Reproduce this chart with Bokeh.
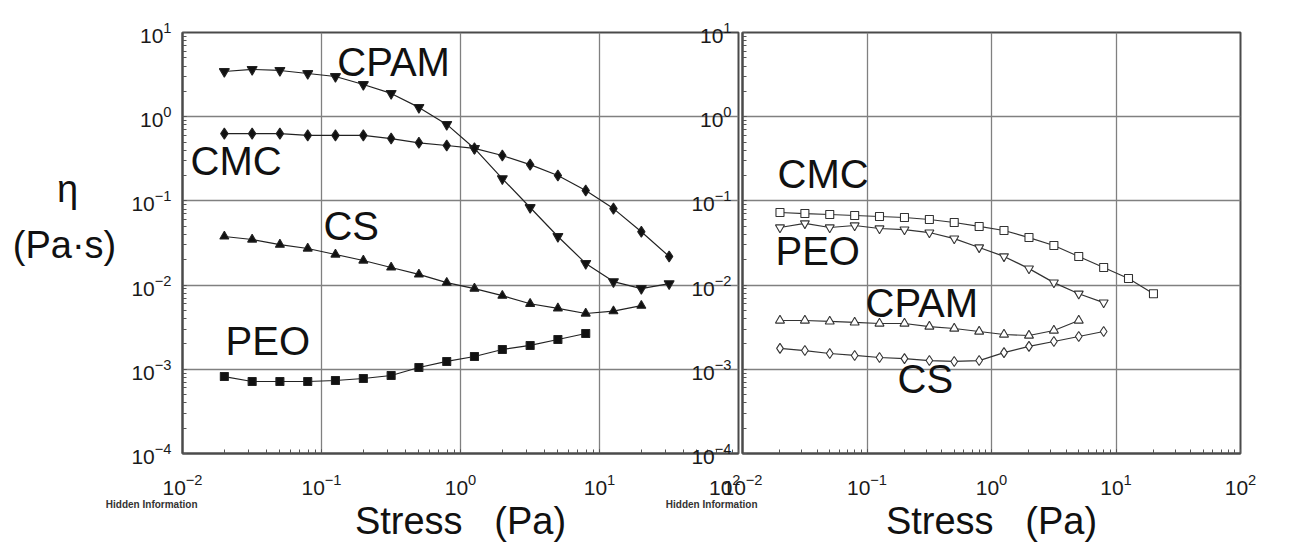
from bokeh.plotting import figure
from bokeh.models import Label
from bokeh.layouts import row
from bokeh.embed import file_html
from bokeh.resources import INLINE

FONT = "Liberation Sans"

# ---------------- data: left panel (filled symbols) ----------------
left_cpam_stress = [0.02, 0.0317, 0.0502, 0.0796, 0.126, 0.2, 0.317, 0.502, 0.796,
                    1.26, 2.0, 3.17, 5.02, 7.96, 12.6, 20.0, 31.7]
left_cpam_eta = [3.44, 3.64, 3.54, 3.26, 3.0, 2.41, 1.89, 1.29, 0.81,
                 0.42, 0.184, 0.0835, 0.0378, 0.0181, 0.0110, 0.0091, 0.0104]

left_cmc_stress = [0.02, 0.0317, 0.0502, 0.0796, 0.126, 0.2, 0.317, 0.502, 0.796,
                   1.26, 2.0, 3.17, 5.02, 7.96, 12.6, 20.0, 31.7]
left_cmc_eta = [0.63, 0.63, 0.63, 0.60, 0.60, 0.60, 0.55, 0.49, 0.455,
                0.42, 0.346, 0.27, 0.20, 0.133, 0.081, 0.043, 0.0219]

left_cs_stress = [0.02, 0.0317, 0.0502, 0.0796, 0.126, 0.2, 0.317, 0.502, 0.796,
                  1.26, 2.0, 3.17, 5.02, 7.96, 12.6, 20.0]
left_cs_eta = [0.0378, 0.0348, 0.0303, 0.0272, 0.0231, 0.0196, 0.0162, 0.0134, 0.0107,
               0.0091, 0.0075, 0.0060, 0.0053, 0.0046, 0.0049, 0.0057]

left_peo_stress = [0.02, 0.0317, 0.0502, 0.0796, 0.126, 0.2, 0.317, 0.502, 0.796,
                   1.26, 2.0, 3.17, 5.02, 7.96]
left_peo_eta = [0.00082, 0.000716, 0.000716, 0.000716, 0.000736, 0.000778, 0.000844,
                0.00105, 0.00124, 0.00142, 0.00172, 0.00192, 0.00226, 0.00266]

# ---------------- data: right panel (open symbols) ----------------
right_cmc_stress = [0.02, 0.0317, 0.0502, 0.0796, 0.126, 0.2, 0.317, 0.502, 0.796,
                    1.26, 2.0, 3.17, 5.02, 7.96, 12.6, 20.0]
right_cmc_eta = [0.0728, 0.0708, 0.0689, 0.0671, 0.0653, 0.0635, 0.0601, 0.0554, 0.0497,
                 0.0445, 0.0367, 0.0295, 0.0219, 0.0162, 0.0120, 0.0079]

right_peo_stress = [0.02, 0.0317, 0.0502, 0.0796, 0.126, 0.2, 0.317, 0.502, 0.796,
                    1.26, 2.0, 3.17, 5.02, 7.96]
right_peo_eta = [0.0483, 0.054, 0.0483, 0.051, 0.047, 0.0457, 0.0421, 0.0357, 0.0280,
                 0.0219, 0.0157, 0.0107, 0.0079, 0.0062]

right_cpam_stress = [0.02, 0.0317, 0.0502, 0.0796, 0.126, 0.2, 0.317, 0.502, 0.796,
                     1.26, 2.0, 3.17, 5.02]
right_cpam_eta = [0.0038, 0.0038, 0.0037, 0.0036, 0.0035, 0.0035, 0.00322, 0.00305,
                  0.00281, 0.00259, 0.00252, 0.00289, 0.0038]

right_cs_stress = [0.02, 0.0317, 0.0502, 0.0796, 0.126, 0.2, 0.317, 0.502, 0.796,
                   1.26, 2.0, 3.17, 5.02, 7.96]
right_cs_eta = [0.00177, 0.00167, 0.00154, 0.00146, 0.00138, 0.00134, 0.00127, 0.00124,
                0.00127, 0.00158, 0.00187, 0.00214, 0.00245, 0.00281]

x_axis_title = "Stress\u00a0\u00a0\u00a0(Pa)"
y_axis_title_1 = "η"
y_axis_title_2 = "(Pa·s)"
hidden_text = "Hidden Information"


def make_fig(frame_w, border_left, border_right):
    p = figure(x_axis_type="log", y_axis_type="log",
               x_range=(0.01, 100), y_range=(1e-4, 10),
               frame_width=frame_w, frame_height=421,
               min_border_left=border_left, min_border_right=border_right,
               min_border_top=32, min_border_bottom=92,
               output_backend="svg", toolbar_location=None)
    p.background_fill_color = "white"
    p.outline_line_color = "#4a4a4a"
    p.outline_line_width = 2
    for g in (p.xgrid[0], p.ygrid[0]):
        g.grid_line_color = "#808080"
        g.grid_line_width = 1.3
    for ax in (p.xaxis[0], p.yaxis[0]):
        ax.major_label_text_font = FONT
        ax.major_label_text_font_size = "21px"
        ax.major_label_text_color = "#1a1a1a"
        ax.axis_line_color = "#4a4a4a"
        ax.axis_line_width = 2
        ax.major_tick_in = 0
        ax.major_tick_out = 0
        ax.minor_tick_in = 4
        ax.minor_tick_out = 0
        ax.minor_tick_line_color = "#555555"
        ax.minor_tick_line_width = 1
    p.xaxis[0].major_label_standoff = 20
    p.yaxis[0].major_label_standoff = 11
    p.xaxis[0].axis_label = x_axis_title
    p.xaxis[0].axis_label_text_font = FONT
    p.xaxis[0].axis_label_text_font_size = "38px"
    p.xaxis[0].axis_label_text_font_style = "normal"
    p.xaxis[0].axis_label_text_color = "#111111"
    p.xaxis[0].axis_label_standoff = 2
    return p


def series(p, xs, ys, marker, size, fill, line_col):
    p.line(xs, ys, line_color=line_col, line_width=1.2)
    p.scatter(xs, ys, marker=marker, size=size, fill_color=fill,
              line_color=line_col, line_width=1.1)


def tag(p, x, y, text, size="40px"):
    p.add_layout(Label(x=x, y=y, text=text, text_font=FONT, text_font_size=size,
                       text_color="#111111", text_align="left",
                       text_baseline="alphabetic"))


def side_tag(p, side, sx, sy, text, size, align, baseline, style="normal", color="#111111"):
    p.add_layout(Label(x=sx, y=sy, x_units="screen", y_units="screen", text=text,
                       text_font=FONT, text_font_size=size, text_color=color,
                       text_font_style=style,
                       text_align=align, text_baseline=baseline), side)


# ---------------- left panel ----------------
p1 = make_fig(556, 182, 2)
series(p1, left_cpam_stress, left_cpam_eta, "inverted_triangle", 10, "#111111", "#222222")
series(p1, left_cmc_stress, left_cmc_eta, "diamond", 11, "#111111", "#222222")
series(p1, left_cs_stress, left_cs_eta, "triangle", 9, "#111111", "#222222")
series(p1, left_peo_stress, left_peo_eta, "square", 8, "#111111", "#222222")
tag(p1, 0.130, 4.5, "CPAM")
tag(p1, 0.01142, 0.295, "CMC")
tag(p1, 0.1033, 0.0498, "CS")
tag(p1, 0.0204, 0.00214, "PEO")
side_tag(p1, "left", -40, 265, y_axis_title_1, "38px", "center", "alphabetic")
side_tag(p1, "left", 60, 209, y_axis_title_2, "38px", "center", "alphabetic")
side_tag(p1, "below", 15, 51, hidden_text, "10px", "right", "middle", "bold", "#333333")

# ---------------- right panel ----------------
p2 = make_fig(498, 80, 74)
p2.border_fill_color = None
p2.styles = {"margin-left": "-78px"}
series(p2, right_cmc_stress, right_cmc_eta, "square", 8, "white", "#333333")
series(p2, right_peo_stress, right_peo_eta, "inverted_triangle", 9, "white", "#333333")
series(p2, right_cpam_stress, right_cpam_eta, "triangle", 9, "white", "#333333")
series(p2, right_cs_stress, right_cs_eta, "diamond", 10, "white", "#333333")
tag(p2, 0.0191, 0.206, "CMC")
tag(p2, 0.0184, 0.0251, "PEO")
tag(p2, 0.0973, 0.0062, "CPAM")
tag(p2, 0.176, 0.00076, "CS")
side_tag(p2, "below", 15, 51, hidden_text, "10px", "right", "middle", "bold", "#333333")

layout = row(p1, p2)
open("out.html", "w").write(file_html(layout, INLINE))
